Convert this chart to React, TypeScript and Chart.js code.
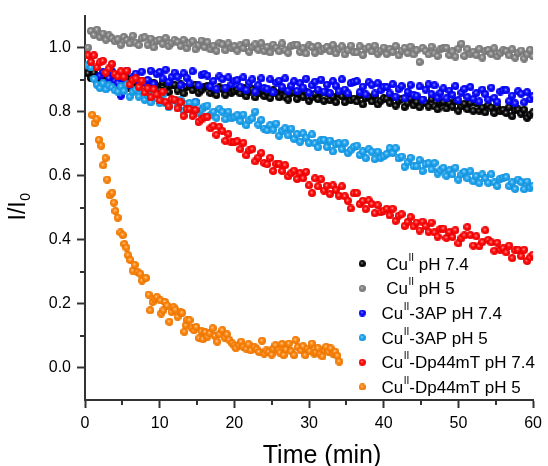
import React, { useEffect, useRef } from 'react';
import { Chart, registerables } from 'chart.js';

Chart.register(...registerables);

const FONT = '"Liberation Sans", Arial, Helvetica, sans-serif';
const AXIS_COLOR = '#333333';

// Sampling grid of the five 0–60 min series (minutes)
const TIME_START = 0.4;
const TIME_STEP = 0.4;

// Cu(II) pH 7.4 (black)
const CU_PH74 = [
  0.920, 0.905, 0.922, 0.894, 0.907, 0.912, 0.885, 0.896, 0.908, 0.887,
  0.882, 0.897, 0.887, 0.904, 0.874, 0.888, 0.895, 0.878, 0.897, 0.871,
  0.884, 0.866, 0.890, 0.880, 0.868, 0.892, 0.870, 0.861, 0.882, 0.884,
  0.866, 0.885, 0.857, 0.877, 0.880, 0.867, 0.884, 0.859, 0.868, 0.876,
  0.880, 0.858, 0.869, 0.852, 0.876, 0.871, 0.853, 0.873, 0.859, 0.864,
  0.870, 0.857, 0.875, 0.848, 0.863, 0.870, 0.845, 0.857, 0.870, 0.849,
  0.860, 0.843, 0.867, 0.857, 0.845, 0.868, 0.847, 0.838, 0.859, 0.861,
  0.840, 0.856, 0.847, 0.863, 0.834, 0.847, 0.856, 0.839, 0.859, 0.834,
  0.858, 0.836, 0.847, 0.830, 0.854, 0.848, 0.830, 0.850, 0.836, 0.841,
  0.832, 0.851, 0.823, 0.842, 0.846, 0.832, 0.850, 0.823, 0.834, 0.842,
  0.841, 0.828, 0.846, 0.819, 0.834, 0.840, 0.815, 0.828, 0.841, 0.820,
  0.831, 0.814, 0.838, 0.827, 0.816, 0.839, 0.817, 0.808, 0.828, 0.831,
  0.810, 0.826, 0.816, 0.832, 0.803, 0.817, 0.825, 0.808, 0.828, 0.803,
  0.826, 0.803, 0.813, 0.798, 0.820, 0.813, 0.796, 0.816, 0.801, 0.806,
  0.796, 0.814, 0.786, 0.804, 0.807, 0.794, 0.806, 0.781, 0.791, 0.798,
];

// Cu(II) pH 5 (grey)
const CU_PH5 = [
  1.000, 1.052, 1.040, 1.056, 1.033, 1.044, 1.025, 1.038, 1.029, 1.020,
  1.026, 1.009, 1.033, 1.024, 1.013, 1.037, 1.016, 1.008, 1.029, 1.032,
  1.009, 1.028, 1.001, 1.021, 1.025, 1.012, 1.030, 1.005, 1.015, 1.024,
  1.018, 1.005, 1.024, 0.998, 1.013, 1.020, 0.995, 1.008, 1.022, 1.002,
  1.017, 0.995, 1.006, 0.990, 1.015, 1.010, 0.992, 1.013, 0.999, 1.005,
  0.991, 1.007, 0.998, 1.016, 0.987, 1.002, 1.010, 0.994, 1.014, 0.990,
  1.002, 0.985, 1.009, 1.000, 0.989, 1.013, 0.992, 0.984, 1.005, 1.008,
  1.009, 0.987, 0.998, 0.982, 1.007, 1.002, 0.984, 1.005, 0.991, 0.997,
  1.002, 0.989, 1.008, 0.982, 0.997, 1.004, 0.979, 0.992, 1.006, 0.986,
  0.985, 1.004, 0.977, 0.997, 1.001, 0.988, 1.006, 0.981, 0.991, 1.000,
  0.980, 0.996, 0.987, 1.005, 0.976, 0.991, 0.999, 0.983, 1.003, 0.979,
  0.992, 0.955, 0.999, 0.990, 0.979, 1.003, 0.982, 0.974, 0.995, 0.998,
  0.999, 0.977, 0.988, 0.972, 0.997, 1.012, 0.974, 0.995, 0.981, 0.987,
  0.977, 0.996, 0.969, 0.989, 0.993, 0.980, 0.998, 0.973, 0.983, 0.992,
  0.989, 0.976, 0.995, 0.969, 0.984, 0.991, 0.966, 0.979, 0.993, 0.973,
];

// Cu(II)-3AP pH 7.4 (blue)
const CU3AP_PH74 = [
  null, null, null, null, 0.913, 0.923, 0.885, 0.905, 0.926, 0.896,
  0.890, 0.850, 0.900, 0.928, 0.884, 0.907, 0.919, 0.894, 0.925, 0.888,
  0.899, 0.928, 0.887, 0.918, 0.924, 0.904, 0.931, 0.893, 0.908, 0.922,
  0.909, 0.883, 0.920, 0.906, 0.889, 0.926, 0.830, 0.882, 0.914, 0.918,
  0.913, 0.879, 0.896, 0.872, 0.910, 0.902, 0.875, 0.907, 0.885, 0.895,
  0.898, 0.878, 0.907, 0.868, 0.891, 0.901, 0.863, 0.883, 0.904, 0.874,
  0.872, 0.901, 0.860, 0.891, 0.897, 0.877, 0.904, 0.866, 0.881, 0.895,
  0.865, 0.889, 0.875, 0.903, 0.859, 0.882, 0.894, 0.869, 0.900, 0.863,
  0.884, 0.858, 0.895, 0.881, 0.864, 0.901, 0.869, 0.857, 0.889, 0.893,
  0.895, 0.861, 0.878, 0.854, 0.892, 0.884, 0.857, 0.889, 0.867, 0.877,
  0.877, 0.857, 0.886, 0.847, 0.870, 0.880, 0.842, 0.862, 0.883, 0.853,
  0.850, 0.879, 0.838, 0.869, 0.885, 0.855, 0.882, 0.844, 0.859, 0.873,
  0.842, 0.866, 0.852, 0.880, 0.836, 0.859, 0.871, 0.846, 0.877, 0.840,
  0.858, 0.832, 0.869, 0.855, 0.838, 0.875, 0.843, 0.831, 0.863, 0.867,
  0.867, 0.833, 0.850, 0.826, 0.864, 0.856, 0.829, 0.861, 0.839, 0.849,
];

// Cu(II)-3AP pH 5 (light blue)
const CU3AP_PH5 = [
  0.945, 0.938, 0.902, 0.884, 0.874, 0.889, 0.870, 0.882, 0.876, 0.867,
  0.863, 0.879, 0.865, 0.885, 0.847, 0.862, 0.869, 0.847, 0.869, 0.837,
  0.852, 0.829, 0.855, 0.842, 0.827, 0.853, 0.826, 0.814, 0.836, 0.838,
  0.816, 0.836, 0.802, 0.824, 0.827, 0.809, 0.829, 0.797, 0.807, 0.816,
  0.819, 0.790, 0.800, 0.781, 0.808, 0.800, 0.777, 0.800, 0.779, 0.783,
  0.789, 0.771, 0.791, 0.758, 0.773, 0.779, 0.800, 0.760, 0.774, 0.747,
  0.742, 0.758, 0.744, 0.763, 0.725, 0.741, 0.748, 0.726, 0.747, 0.715,
  0.730, 0.706, 0.732, 0.719, 0.703, 0.729, 0.701, 0.689, 0.711, 0.712,
  0.690, 0.710, 0.676, 0.698, 0.701, 0.683, 0.703, 0.671, 0.681, 0.690,
  0.694, 0.665, 0.676, 0.655, 0.683, 0.675, 0.652, 0.675, 0.656, 0.661,
  0.668, 0.686, 0.671, 0.686, 0.654, 0.660, 0.628, 0.642, 0.656, 0.630,
  0.630, 0.649, 0.615, 0.636, 0.639, 0.620, 0.640, 0.607, 0.617, 0.625,
  0.600, 0.617, 0.604, 0.625, 0.588, 0.604, 0.612, 0.592, 0.614, 0.583,
  0.599, 0.577, 0.604, 0.592, 0.578, 0.605, 0.579, 0.568, 0.591, 0.594,
  0.596, 0.568, 0.579, 0.559, 0.588, 0.580, 0.558, 0.582, 0.563, 0.569,
];

// Cu(II)-Dp44mT pH 7.4 (red)
const CUDP_PH74 = [
  0.976, 0.955, 0.976, 0.938, 0.954, 0.959, 0.922, 0.935, 0.949, 0.918,
  0.910, 0.926, 0.909, 0.928, 0.885, 0.899, 0.904, 0.877, 0.897, 0.860,
  0.873, 0.845, 0.870, 0.854, 0.835, 0.863, 0.831, 0.817, 0.839, 0.838,
  0.810, 0.829, 0.787, 0.808, 0.809, 0.787, 0.805, 0.768, 0.776, 0.782,
  0.784, 0.748, 0.756, 0.728, 0.753, 0.740, 0.709, 0.730, 0.704, 0.705,
  0.707, 0.683, 0.703, 0.664, 0.679, 0.683, 0.645, 0.657, 0.671, 0.640,
  0.636, 0.656, 0.615, 0.637, 0.637, 0.615, 0.633, 0.598, 0.608, 0.616,
  0.590, 0.608, 0.592, 0.612, 0.570, 0.546, 0.592, 0.567, 0.589, 0.554,
  0.569, 0.543, 0.570, 0.556, 0.538, 0.567, 0.536, 0.522, 0.498, 0.545,
  0.546, 0.512, 0.522, 0.496, 0.523, 0.512, 0.483, 0.508, 0.486, 0.491,
  0.497, 0.476, 0.497, 0.459, 0.475, 0.480, 0.443, 0.456, 0.471, 0.442,
  0.454, 0.429, 0.457, 0.443, 0.425, 0.454, 0.423, 0.410, 0.434, 0.435,
  0.406, 0.424, 0.409, 0.430, 0.389, 0.405, 0.414, 0.440, 0.415, 0.382,
  0.411, 0.380, 0.393, 0.430, 0.400, 0.392, 0.366, 0.391, 0.369, 0.374,
  0.361, 0.382, 0.343, 0.367, 0.369, 0.349, 0.369, 0.334, 0.345, 0.354,
];

// Cu(II)-Dp44mT pH 5 (orange): time (min) and I/I0
const CUDP_PH5_T = [
  0.97, 1.29, 1.55, 1.86, 2.17, 2.44, 2.75, 2.97, 3.33, 3.64,
  3.86, 4.08, 4.39, 4.75, 5.06, 5.28, 5.55, 5.77, 6.08, 6.39,
  6.66, 7.06, 7.41, 7.63, 8.16, 8.52, 8.74, 9.05, 9.35, 9.63,
  10.1, 10.2, 10.5, 10.7, 11.0, 11.3, 11.6, 11.85, 12.1, 12.4,
  12.8, 13.0, 13.3, 13.5, 13.7, 14.0, 14.3, 14.6, 14.9, 15.3,
  15.6, 15.8, 16.1, 16.4, 16.7, 17.1, 17.4, 17.7, 18.0, 18.4,
  18.7, 19.0, 19.3, 19.7, 20.0, 20.2, 20.6, 20.9, 21.2, 21.6,
  21.9, 22.2, 22.7, 23.0, 23.3, 23.7, 24.0, 24.3, 24.6, 25.0,
  25.2, 25.5, 25.9, 26.1, 26.4, 26.6, 26.9, 27.3, 27.6, 28.0,
  28.2, 28.5, 28.9, 29.2, 29.5, 29.8, 30.1, 30.4, 30.7, 30.9,
  31.2, 31.5, 31.8, 32.1, 32.3, 32.6, 32.9, 33.2, 33.5, 33.8,
  34.05,
];
const CUDP_PH5 = [
  0.790, 0.764, 0.777, 0.712, 0.694, 0.633, 0.655, 0.588, 0.539, 0.547,
  0.516, 0.490, 0.469, 0.423, 0.415, 0.387, 0.376, 0.352, 0.337, 0.304,
  0.322, 0.299, 0.294, 0.273, 0.281, 0.229, 0.180, 0.206, 0.215, 0.221,
  0.211, 0.170, 0.180, 0.206, 0.195, 0.144, 0.175, 0.190, 0.182, 0.160,
  0.175, 0.172, 0.113, 0.133, 0.150, 0.149, 0.125, 0.118, 0.128, 0.093,
  0.115, 0.090, 0.112, 0.098, 0.108, 0.124, 0.100, 0.082, 0.105, 0.118,
  0.095, 0.105, 0.088, 0.077, 0.070, 0.062, 0.072, 0.082, 0.066, 0.060,
  0.074, 0.055, 0.065, 0.058, 0.050, 0.085, 0.045, 0.055, 0.050, 0.042,
  0.060, 0.071, 0.055, 0.048, 0.075, 0.040, 0.058, 0.076, 0.052, 0.040,
  0.087, 0.065, 0.055, 0.068, 0.040, 0.060, 0.052, 0.076, 0.045, 0.050,
  0.062, 0.043, 0.036, 0.055, 0.066, 0.051, 0.061, 0.045, 0.051, 0.038,
  0.020,
];

// Legend labels: [before superscript, superscript, after superscript]
const LABELS: [string, string, string][] = [
  [' Cu', 'II', ' pH 7.4'],
  [' Cu', 'II', ' pH 5'],
  ['Cu', 'II', '-3AP pH 7.4'],
  ['Cu', 'II', '-3AP pH 5'],
  ['Cu', 'II', '-Dp44mT pH 7.4'],
  ['Cu', 'II', '-Dp44mT pH 5'],
];
const COLORS: [number, number, number][] = [
  [0, 0, 0],
  [128, 128, 128],
  [0, 0, 255],
  [20, 160, 240],
  [255, 0, 0],
  [255, 128, 0],
];

const X_TICKS = [0, 10, 20, 30, 40, 50, 60];
const Y_TICKS = [0, 0.2, 0.4, 0.6, 0.8, 1.0];
const X_MINOR = [5, 15, 25, 35, 45, 55];
const Y_MINOR = [0.1, 0.3, 0.5, 0.7, 0.9];

function rgb(c: [number, number, number], k = 1, w = 0) {
  const f = (v: number) => Math.round(Math.min(255, v * k + (255 - v * k) * w));
  return `rgb(${f(c[0])},${f(c[1])},${f(c[2])})`;
}

function makeDot(c: [number, number, number], d: number) {
  const cv = document.createElement('canvas');
  cv.width = d;
  cv.height = d;
  const g = cv.getContext('2d')!;
  const r = d / 2;
  const grad = g.createRadialGradient(r - 0.6, r - 0.8, 0, r, r, r);
  grad.addColorStop(0, rgb(c, 1, 0.8));
  grad.addColorStop(0.22, rgb(c, 1, 0.3));
  grad.addColorStop(0.45, rgb(c, 1, 0.05));
  grad.addColorStop(1, rgb(c, 0.9));
  g.fillStyle = grad;
  g.beginPath();
  g.arc(r, r, r, 0, Math.PI * 2);
  g.fill();
  return cv;
}

function gridPoints(values: (number | null)[]) {
  const pts: { x: number; y: number }[] = [];
  values.forEach((v, i) => {
    if (v !== null) pts.push({ x: TIME_START + i * TIME_STEP, y: v });
  });
  return pts;
}

export default function App() {
  const ref = useRef<HTMLCanvasElement>(null);

  useEffect(() => {
    document.body.style.margin = '0';
    const canvas = ref.current!;
    const dataDots = COLORS.map((c) => makeDot(c, 8));
    const legendDots = COLORS.map((c) => makeDot(c, 7));

    const seriesPoints = [
      gridPoints(CU_PH74),
      gridPoints(CU_PH5),
      gridPoints(CU3AP_PH74),
      gridPoints(CU3AP_PH5),
      gridPoints(CUDP_PH74),
      CUDP_PH5_T.map((t, i) => ({ x: t, y: CUDP_PH5[i] })),
    ];

    const datasets = seriesPoints.map((pts, i) => ({
      label: LABELS[i].join(''),
      data: pts,
      pointStyle: dataDots[i] as any,
      pointRadius: 4,
      showLine: false,
      order: LABELS.length - i,
      backgroundColor: rgb(COLORS[i]),
      borderColor: rgb(COLORS[i]),
    }));

    const decor = {
      id: 'decor',
      afterDraw(chart: any) {
        const { ctx, chartArea: a, scales } = chart;
        const xs = scales.x;
        const ys = scales.y;
        ctx.save();
        // minor ticks
        ctx.strokeStyle = AXIS_COLOR;
        ctx.lineWidth = 2;
        for (const v of X_MINOR) {
          const px = Math.round(xs.getPixelForValue(v));
          ctx.beginPath();
          ctx.moveTo(px, a.bottom);
          ctx.lineTo(px, a.bottom + 5);
          ctx.stroke();
        }
        for (const v of Y_MINOR) {
          const py = Math.round(ys.getPixelForValue(v));
          ctx.beginPath();
          ctx.moveTo(a.left - 5, py);
          ctx.lineTo(a.left, py);
          ctx.stroke();
        }
        // x title
        ctx.fillStyle = '#000';
        ctx.textBaseline = 'alphabetic';
        ctx.textAlign = 'center';
        ctx.font = `25px ${FONT}`;
        ctx.fillText('Time (min)', 322, 463);
        // y title I/I0
        ctx.save();
        ctx.translate(25, 205);
        ctx.rotate(-Math.PI / 2);
        ctx.textAlign = 'left';
        ctx.font = `23px ${FONT}`;
        const w1 = ctx.measureText('I/I').width;
        ctx.font = `14px ${FONT}`;
        const w2 = ctx.measureText('0').width;
        const start = -(w1 + w2) / 2 - 2;
        ctx.font = `23px ${FONT}`;
        ctx.fillText('I/I', start, 0);
        ctx.font = `14px ${FONT}`;
        ctx.fillText('0', start + w1 + 0.5, 5);
        ctx.restore();
        // legend
        ctx.textAlign = 'left';
        LABELS.forEach((lab, i) => {
          const cy = 263.7 + i * 24.65;
          const d = legendDots[i];
          ctx.drawImage(d, 362.3 - d.width / 2, cy - d.height / 2);
          const base = cy + 6;
          let x = 381.5;
          ctx.fillStyle = '#000';
          ctx.font = `17px ${FONT}`;
          ctx.fillText(lab[0], x, base);
          x += ctx.measureText(lab[0]).width;
          ctx.font = `10px ${FONT}`;
          ctx.fillText(lab[1], x + 0.5, base - 9);
          x += ctx.measureText(lab[1]).width + 0.5;
          ctx.font = `17px ${FONT}`;
          ctx.fillText(lab[2], x, base);
        });
        ctx.restore();
      },
    };

    const chart = new Chart(canvas, {
      type: 'scatter',
      data: { datasets: datasets as any },
      options: {
        animation: false,
        responsive: false,
        events: [],
        layout: { padding: { left: 0, right: 12, top: 14, bottom: 0 } },
        plugins: {
          legend: { display: false },
          tooltip: { enabled: false },
        },
        scales: {
          x: {
            type: 'linear',
            min: 0,
            max: 60,
            afterBuildTicks: (s: any) => {
              s.ticks = X_TICKS.map((v) => ({ value: v }));
            },
            ticks: {
              maxRotation: 0,
              padding: 6,
              color: '#000',
              font: { family: FONT, size: 16 },
              callback: (v: any) => String(Number(v)),
            },
            grid: {
              display: true,
              drawOnChartArea: false,
              drawTicks: true,
              tickLength: 8,
              tickWidth: 2,
              tickColor: AXIS_COLOR,
            },
            border: { display: true, color: AXIS_COLOR, width: 2 },
            afterFit: (s: any) => {
              s.height = 66;
            },
          },
          y: {
            type: 'linear',
            min: -0.1,
            max: 1.1,
            afterBuildTicks: (s: any) => {
              s.ticks = Y_TICKS.map((v) => ({ value: v }));
            },
            ticks: {
              padding: 6,
              color: '#000',
              font: { family: FONT, size: 16 },
              callback: (v: any) => Number(v).toFixed(1),
            },
            grid: {
              display: true,
              drawOnChartArea: false,
              drawTicks: true,
              tickLength: 8,
              tickWidth: 2,
              tickColor: AXIS_COLOR,
            },
            border: { display: true, color: AXIS_COLOR, width: 2 },
            afterFit: (s: any) => {
              s.width = 85;
            },
          },
        },
      },
      plugins: [decor],
    });

    return () => chart.destroy();
  }, []);

  return <canvas ref={ref} width={548} height={466} style={{ display: 'block' }} />;
}
